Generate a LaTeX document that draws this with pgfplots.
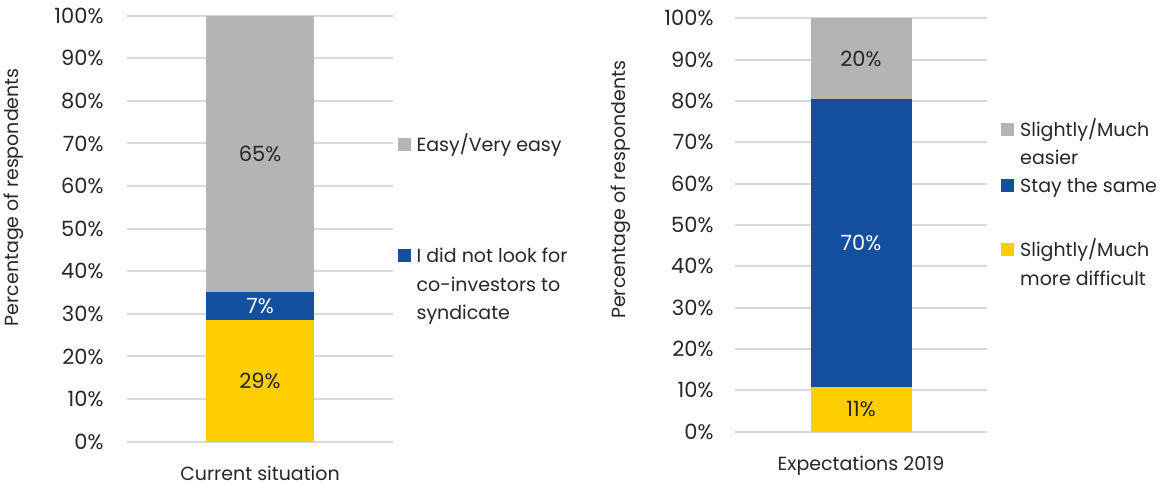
\documentclass[border=0pt]{standalone}
\usepackage{fontspec}
\setmainfont{Poppins}
\usepackage{pgfplots}
\pgfplotsset{compat=1.18}
\definecolor{cgray}{HTML}{B4B4B4}
\definecolor{cblue}{HTML}{144F9E}
\definecolor{cyellow}{HTML}{FECE00}
\definecolor{cgrid}{HTML}{D9D9D9}
\definecolor{ctext}{HTML}{262626}
\newcommand{\cf}{\fontsize{19bp}{28.5bp}\selectfont}
\newcommand{\nf}{\fontsize{21bp}{28.5bp}\selectfont}
\pgfplotsset{
  myax/.style={
    scale only axis, anchor=south west, ybar stacked,
    xmin=-1, xmax=1, ymin=0, ymax=100,
    xtick={0}, ytick={0,10,...,100},
    axis line style={draw=none}, major tick length=0pt,
    ymajorgrids, grid style={draw=cgrid, line width=2bp},
    yticklabel={\pgfmathprintnumber{\tick}\%},
    /pgf/number format/assume math mode=true,
    yticklabel style={font=\nf, text=ctext},
    xticklabel style={font=\cf, text=ctext, yshift=-21bp},
    label style={font=\cf, text=ctext},
    legend cell align=left,
    legend style={draw=none, fill=none, font=\cf, text=ctext, inner sep=0pt,
      nodes={inner sep=3bp, align=left}, cells={anchor=north west}, anchor=north west},
    legend image code/.code={\path[draw=none, fill=none] (0bp,0bp) rectangle (16bp,-22.95bp);
      \fill[##1] (0bp,-22.95bp) rectangle (13bp,-9.95bp);},
    reverse legend,
  }
}
\begin{document}
\begin{tikzpicture}
\path[use as bounding box] (0,0) rectangle (1161bp,485bp);
% Left panel
\begin{axis}[myax,
  at={(127bp,43.3bp)}, width=266bp, height=426bp, bar width=107bp,
  yticklabel style={xshift=-20bp},
  xticklabels={Current situation},
  ylabel={Percentage of respondents},
  ylabel style={at={(axis description cs:-0.425,0.574)}, anchor=center},
  legend style={at={(axis description cs:1.0166,0.737)}, row sep=83.8bp},
]
\addplot[fill=cyellow, draw=none, forget plot] coordinates {(0,28.64)};
\addplot[fill=cblue, draw=none] coordinates {(0,6.5)};
\addlegendentry{\strut I did not look for\\\strut co-investors to\\\strut syndicate}
\addplot[fill=cgray, draw=none] coordinates {(0,64.86)};
\addlegendentry{\strut Easy/Very easy}
\coordinate (a1) at (axis cs:0,14.32);
\coordinate (a2) at (axis cs:0,31.89);
\coordinate (a3) at (axis cs:0,67.57);
\end{axis}
\node[font=\nf, text=ctext] at (a1) {29\%};
\node[font=\nf, text=white] at (a2) {7\%};
\node[font=\nf, text=ctext] at (a3) {65\%};
% Right panel
\begin{axis}[myax,
  at={(735bp,53.3bp)}, width=252bp, height=413.4bp, bar width=101bp,
  yticklabel style={xshift=-18bp},
  xticklabels={Expectations 2019},
  ylabel={Percentage of respondents},
  ylabel style={at={(axis description cs:-0.452,0.585)}, anchor=center},
  legend style={at={(axis description cs:1.0556,0.771)}, row sep=0bp},
]
\addplot[fill=cyellow, draw=none] coordinates {(0,10.81)};
\addlegendentry{\strut Slightly/Much\\\strut more difficult}
\addplot[fill=cblue, draw=none] coordinates {(0,69.67)};
\addlegendentry{\strut Stay the same\\[8bp]\strut}
\addplot[fill=cgray, draw=none] coordinates {(0,19.52)};
\addlegendentry{\strut Slightly/Much\\\strut easier}
\coordinate (b1) at (axis cs:0,5.4);
\coordinate (b2) at (axis cs:0,45.65);
\coordinate (b3) at (axis cs:0,90.24);
\end{axis}
\node[font=\nf, text=ctext] at (b1) {11\%};
\node[font=\nf, text=white] at (b2) {70\%};
\node[font=\nf, text=ctext] at (b3) {20\%};
\end{tikzpicture}
\end{document}
